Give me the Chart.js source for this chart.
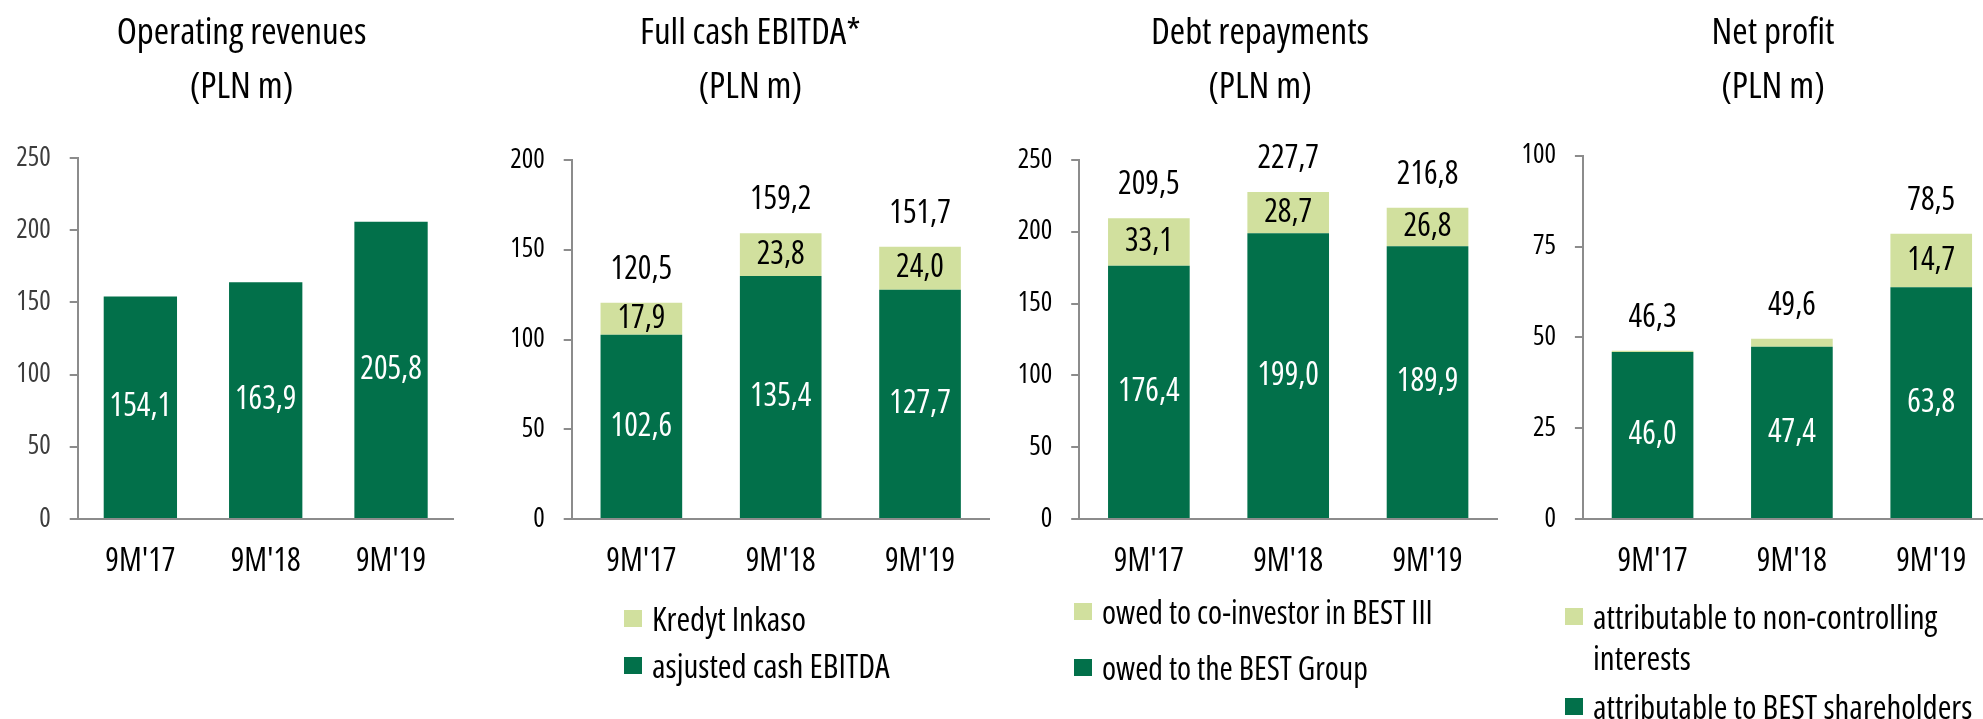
<!DOCTYPE html>
<html>
<head>
<meta charset="utf-8">
<script src="https://cdn.jsdelivr.net/npm/chart.js@4.4.1/dist/chart.umd.min.js"></script>
<style>
  html, body { margin: 0; padding: 0; background: #fff; }
  body { width: 1983px; height: 719px; overflow: hidden; position: relative;
         font-family: 'Open Sans', sans-serif; font-stretch: 75%; }
  .panel { position: absolute; top: 0; height: 600px; }
  .title { position: absolute; top: 3.3px; width: 400px; text-align: center; font-size: 37px; line-height: 54px; color: #000; }
  .legend { position: absolute; font-size: 32px; line-height: 41px; color: #000; }
  .legend .item { display: flex; align-items: flex-start; }
  .legend .swatch { flex: none; width: 18px; height: 17px; margin-top: 12px; margin-right: 10px; }
</style>
</head>
<body>
<div class="panel" style="left:0;width:490px"><canvas id="c1"></canvas></div>
<div class="panel" style="left:490px;width:500px"><canvas id="c2"></canvas></div>
<div class="panel" style="left:985px;width:520px"><canvas id="c3"></canvas></div>
<div class="panel" style="left:1480px;width:540px"><canvas id="c4"></canvas></div>
<script>
  const FAMILY = "'Open Sans', sans-serif";
  const STRETCH = 'condensed';
  const DARK = '#02704a';
  const LIGHT = '#d1e09e';
  const AXIS = '#8c8c8c';

  const categories = ["9M'17", "9M'18", "9M'19"];

  const revenues = [154.1, 163.9, 205.8];

  const ebitdaAdjusted = [102.6, 135.4, 127.7];
  const ebitdaKredyt = [17.9, 23.8, 24.0];
  const ebitdaTotal = [120.5, 159.2, 151.7];

  const debtBest = [176.4, 199.0, 189.9];
  const debtCoInvestor = [33.1, 28.7, 26.8];
  const debtTotal = [209.5, 227.7, 216.8];

  const profitShareholders = [46.0, 47.4, 63.8];
  const profitMinority = [0.3, 2.2, 14.7];
  const profitTotal = [46.3, 49.6, 78.5];

  const fmt = v => v.toFixed(1).replace('.', ',');

  // values inside the segments + totals above the stacks
  const valueLabels = {
    id: 'valueLabels',
    afterDatasetsDraw(chart, args, opts) {
      const ctx = chart.ctx;
      ctx.save();
      ctx.font = STRETCH + ' 32px ' + FAMILY;
      ctx.textAlign = 'center';
      ctx.textBaseline = 'middle';
      chart.data.datasets.forEach((ds, i) => {
        chart.getDatasetMeta(i).data.forEach((bar, j) => {
          const v = ds.data[j];
          if (v < 5) return;
          const p = bar.getProps(['x', 'y', 'base'], true);
          ctx.fillStyle = ds.labelColor;
          ctx.fillText(fmt(v), p.x, (p.y + p.base) / 2);
        });
      });
      if (opts.totals) {
        const meta = chart.getDatasetMeta(0);
        opts.totals.forEach((t, j) => {
          const y = chart.scales.y.getPixelForValue(t);
          ctx.fillStyle = '#000';
          ctx.fillText(fmt(t), meta.data[j].x, y - 33);
        });
      }
      ctx.restore();
    }
  };

  function makeChart(c) {
    const chart = new Chart(document.getElementById(c.canvas), {
      type: 'bar',
      data: { labels: categories, datasets: c.datasets },
      options: {
        responsive: true,
        maintainAspectRatio: false,
        animation: false,
        layout: { padding: { left: 0, right: c.padR, top: c.top, bottom: 0 } },
        datasets: { bar: { barPercentage: c.bar, categoryPercentage: 1 } },
        plugins: {
          legend: { display: false },
          tooltip: { enabled: false },
          valueLabels: { totals: c.totals }
        },
        scales: {
          x: {
            stacked: true,
            grid: { display: false, drawTicks: false },
            border: { display: true, color: AXIS, width: 2 },
            ticks: { color: '#000', padding: 23.8, font: { family: FAMILY, weight: STRETCH, size: 32 } },
            afterFit: s => { s.height = 81; }
          },
          y: {
            stacked: true,
            min: 0,
            max: c.max,
            grid: { display: true, drawOnChartArea: false, drawTicks: true, tickLength: 8, color: AXIS, lineWidth: 2 },
            border: { display: true, color: AXIS, width: 2 },
            ticks: { stepSize: c.step, color: c.tickColor, padding: 19, font: { family: FAMILY, weight: STRETCH, size: 27 } },
            afterFit: s => { s.width = c.axisW; }
          }
        }
      },
      plugins: [valueLabels]
    });

    const t = document.createElement('div');
    t.className = 'title';
    t.style.left = (c.titleX - 200) + 'px';
    t.innerHTML = c.title.join('<br>');
    document.body.appendChild(t);

    if (c.legend) {
      const box = document.createElement('div');
      box.className = 'legend';
      box.style.left = c.legend.left + 'px';
      box.style.top = c.legend.top + 'px';
      box.style.fontSize = c.legend.size + 'px';
      c.datasets.slice().reverse().forEach((ds, i) => {
        const item = document.createElement('div');
        item.className = 'item';
        if (i > 0) item.style.marginTop = c.legend.gap + 'px';
        if (c.legend.width) item.style.width = c.legend.width + 'px';
        item.innerHTML = '<span class="swatch" style="background:' + ds.backgroundColor + '"></span><span>' + ds.label + '</span>';
        box.appendChild(item);
      });
      document.body.appendChild(box);
    }
    return chart;
  }

  makeChart({
    canvas: 'c1', padR: 36.3, axisW: 77.7, top: 158, max: 250, step: 50, titleX: 241.5,
    bar: 0.585, tickColor: '#3d3d3d', title: ['Operating revenues', '(PLN m)'],
    datasets: [{ label: 'Operating revenues', data: revenues, backgroundColor: DARK, labelColor: '#fff' }]
  });

  makeChart({
    canvas: 'c2', padR: 0.3, axisW: 81.7, top: 160, max: 200, step: 50, titleX: 750.3,
    bar: 0.586, tickColor: '#000', title: ['Full cash EBITDA*', '(PLN m)'], totals: ebitdaTotal,
    datasets: [
      { label: 'asjusted cash EBITDA', data: ebitdaAdjusted, backgroundColor: DARK, labelColor: '#fff' },
      { label: 'Kredyt Inkaso', data: ebitdaKredyt, backgroundColor: LIGHT, labelColor: '#000' }
    ],
    legend: { left: 624, top: 597.5, gap: 6.5, size: 33 }
  });

  makeChart({
    canvas: 'c3', padR: 7.8, axisW: 94.2, top: 160, max: 250, step: 50, titleX: 1260,
    bar: 0.586, tickColor: '#000', title: ['Debt repayments', '(PLN m)'], totals: debtTotal,
    datasets: [
      { label: 'owed to the BEST Group', data: debtBest, backgroundColor: DARK, labelColor: '#fff' },
      { label: 'owed to co-investor in BEST III', data: debtCoInvestor, backgroundColor: LIGHT, labelColor: '#000' }
    ],
    legend: { left: 1074, top: 590.5, gap: 15, size: 32 }
  });

  makeChart({
    canvas: 'c4', padR: 19.1, axisW: 102.9, top: 155.7, max: 100, step: 25, titleX: 1773,
    bar: 0.586, tickColor: '#000', title: ['Net profit', '(PLN m)'], totals: profitTotal,
    datasets: [
      { label: 'attributable to BEST shareholders', data: profitShareholders, backgroundColor: DARK, labelColor: '#fff' },
      { label: 'attributable to non-controlling interests', data: profitMinority, backgroundColor: LIGHT, labelColor: '#000' }
    ],
    legend: { left: 1565, top: 595.5, gap: 8, width: 430, size: 33 }
  });
</script>
</body>
</html>
